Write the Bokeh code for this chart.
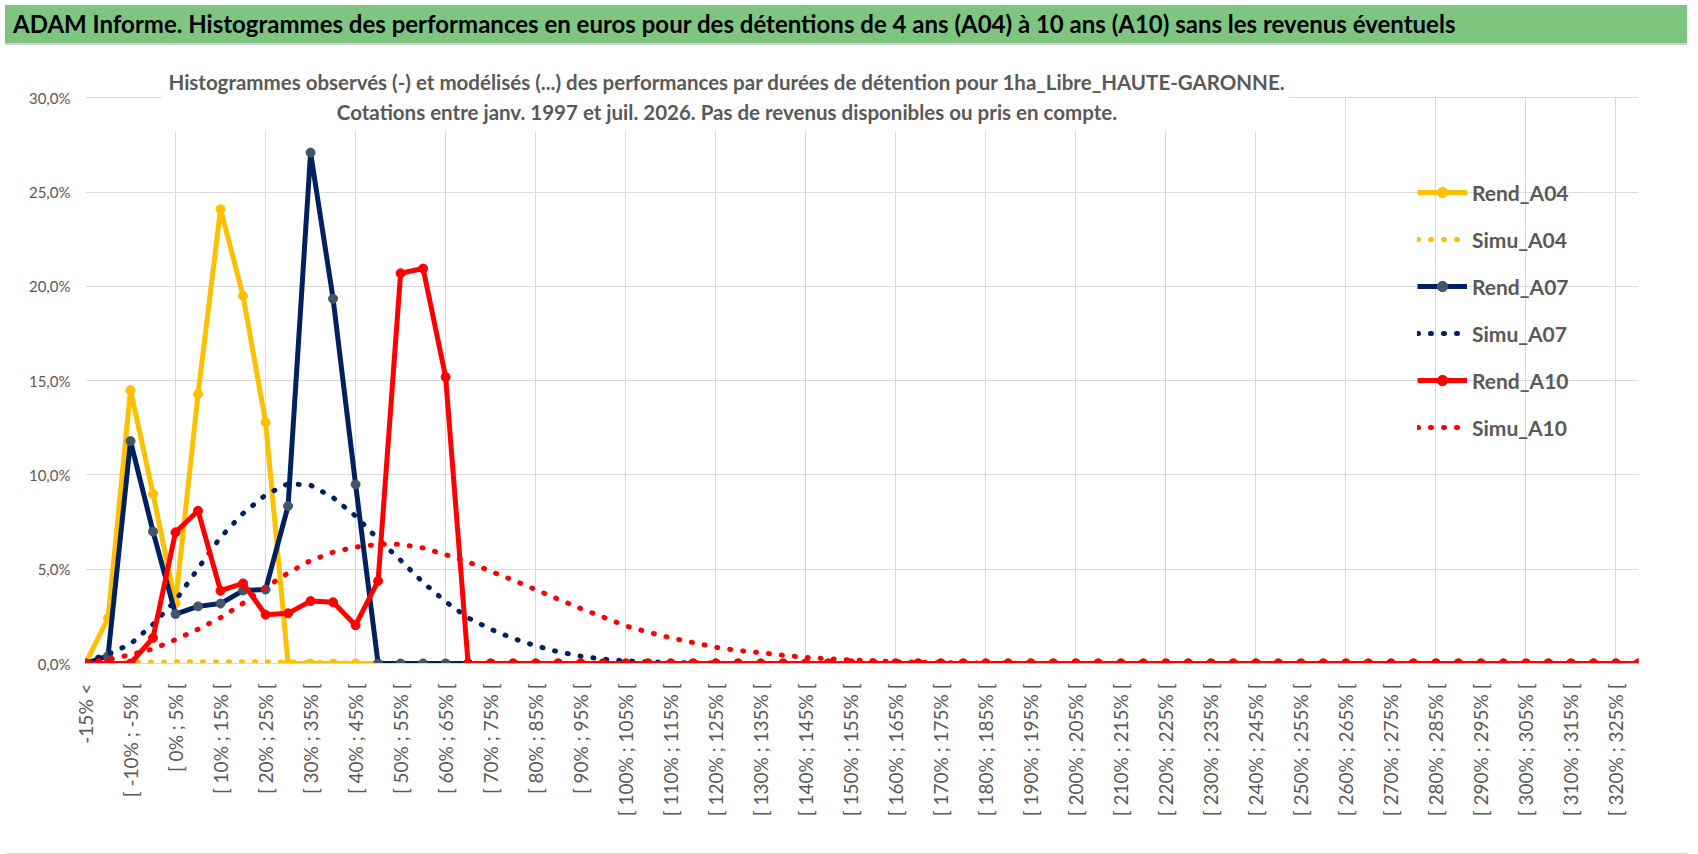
import math
from bokeh.plotting import figure
from bokeh.models import (FixedTicker, Legend, LegendItem, Label, BoxAnnotation,
                          Div, Range1d, ColumnDataSource)
from bokeh.layouts import column
from bokeh.embed import file_html
from bokeh.resources import INLINE

# ---------------- data ----------------
TITLE = ("ADAM Informe. Histogrammes des performances en euros pour des détentions "
         "de 4 ans (A04) à 10 ans (A10) sans les revenus éventuels")
SUBTITLE_1 = ("Histogrammes observés (-) et modélisés (...) des performances par durées "
              "de détention pour 1ha_Libre_HAUTE-GARONNE.")
SUBTITLE_2 = "Cotations entre janv. 1997 et juil. 2026. Pas de revenus disponibles ou pris en compte."

CATEGORIES = ["-15% <"] + [f"[ {5 * k - 20}% ; {5 * k - 15}% [" for k in range(1, 70)]

Y_TICKS = [0, 5, 10, 15, 20, 25, 30]
Y_TICK_LABELS = ["0,0%", "5,0%", "10,0%", "15,0%", "20,0%", "25,0%", "30,0%"]

N = len(CATEGORIES)

REND_A04 = [0.0, 2.4, 14.5, 9.0, 3.2, 14.3, 24.1, 19.5, 12.8] + [0.0] * (N - 9)
SIMU_A04 = [0.0, 0.02, 0.05, 0.08, 0.09, 0.09, 0.09, 0.09, 0.09, 0.08, 0.06, 0.04,
            0.02, 0.01] + [0.0] * (N - 14)
REND_A07 = [0.0, 0.4, 11.8, 7.0, 2.62, 3.03, 3.18, 3.87, 3.92, 8.35, 27.1, 19.35,
            9.5] + [0.0] * (N - 13)
SIMU_A07 = [0.1, 0.5, 1.03, 2.08, 3.34, 5.04, 6.7, 7.96, 8.94, 9.54, 9.46, 8.8,
            7.82, 6.6, 5.48, 4.3, 3.28, 2.42, 1.82, 1.33, 0.94, 0.62, 0.39, 0.23,
            0.14, 0.09, 0.05, 0.03, 0.02, 0.01] + [0.0] * (N - 30)
REND_A10 = [0.0, 0.0, 0.0, 1.36, 6.96, 8.1, 3.86, 4.25, 2.59, 2.66, 3.31, 3.25,
            2.03, 4.38, 20.7, 20.95, 15.2] + [0.0] * (N - 17)
SIMU_A10 = [0.1, 0.2, 0.47, 0.77, 1.27, 1.82, 2.43, 3.2, 4.04, 4.8, 5.46, 5.9,
            6.18, 6.32, 6.32, 6.13, 5.77, 5.39, 4.89, 4.42, 3.92, 3.41, 2.92, 2.46,
            2.0, 1.66, 1.36, 1.11, 0.86, 0.69, 0.57, 0.44, 0.32, 0.25, 0.19, 0.14,
            0.1, 0.07, 0.05, 0.03, 0.02, 0.01, 0.01] + [0.0] * (N - 43)

X = list(range(N))

YELLOW = "#FFC000"
NAVY = "#002060"
NAVY_MARK = "#44546A"
RED = "#FF0000"
GREY_TXT = "#595959"
GRID = "#D9D9D9"
FONT = "Lato"

Y_TOP = 31.88  # room above the 30 % line for the chart title

# ---------------- header band ----------------
band = Div(
    text=(f'<div style="width:1682px;height:40px;box-sizing:border-box;'
          f'background:#7EC680;border-bottom:2px solid #D0D0D0;'
          f'font-family:{FONT};font-weight:bold;font-size:24px;color:#000;'
          f'line-height:38px;padding-left:8px;white-space:nowrap;">{TITLE}</div>'),
    width=1682, height=40,
)

# bottom border of the chart area
bottom = Div(
    text=('<div style="width:1682px;height:6px;box-sizing:border-box;'
          'border-top:2px solid #D9D9D9;"></div>'),
    width=1682, height=6,
)

# ---------------- figure ----------------
p = figure(width=1682, height=792,
           x_range=Range1d(0, N - 1), y_range=Range1d(0, Y_TOP),
           output_backend="svg", toolbar_location=None,
           min_border_left=85, min_border_right=44,
           min_border_top=12, min_border_bottom=179)
p.title.visible = False
p.title.text_font_size = "0px"
p.title.standoff = 0
p.outline_line_color = None
p.background_fill_color = "white"
p.border_fill_color = "white"

# axes
p.xaxis.ticker = FixedTicker(ticks=list(range(0, N, 2)))
p.xaxis.major_label_overrides = {i: CATEGORIES[i] for i in range(0, N, 2)}
p.xaxis.major_label_orientation = math.pi / 2
p.xaxis.major_label_text_font = FONT
p.xaxis.major_label_text_font_size = "19px"
p.xaxis.major_label_text_color = GREY_TXT
p.xaxis.major_label_standoff = 20
p.xaxis.major_tick_out = 0
p.xaxis.major_tick_in = 0
p.xaxis.axis_line_color = GRID
p.xaxis.major_tick_line_color = None
p.xaxis.minor_tick_line_color = None

p.yaxis.ticker = FixedTicker(ticks=Y_TICKS)
p.yaxis.major_label_overrides = dict(zip(Y_TICKS, Y_TICK_LABELS))
p.yaxis.major_label_text_font = FONT
p.yaxis.major_label_text_font_size = "15px"
p.yaxis.major_label_text_color = GREY_TXT
p.yaxis.major_label_standoff = 15
p.yaxis.major_tick_out = 0
p.yaxis.major_tick_in = 0
p.yaxis.axis_line_color = None
p.yaxis.major_tick_line_color = None
p.yaxis.minor_tick_line_color = None

p.xgrid.ticker = FixedTicker(ticks=list(range(0, N, 4)))
p.ygrid.ticker = FixedTicker(ticks=Y_TICKS)
p.xgrid.grid_line_color = GRID
p.ygrid.grid_line_color = GRID

# white areas: above the plot area, and the chart-title box overlapping it
p.add_layout(BoxAnnotation(left=0, right=N - 1, bottom=30.06, top=Y_TOP,
                           fill_color="white", fill_alpha=1.0, line_alpha=0))
p.add_layout(BoxAnnotation(left=3.38, right=53.46, bottom=28.25, top=30.1,
                           fill_color="white", fill_alpha=1.0, line_alpha=0))

src = ColumnDataSource(dict(x=X, ra04=REND_A04, sa04=SIMU_A04, ra07=REND_A07,
                            sa07=SIMU_A07, ra10=REND_A10, sa10=SIMU_A10))

LW = 5
DOTS = "1 12"
MS = 9

r_a04 = p.line("x", "ra04", source=src, line_color=YELLOW, line_width=LW, line_join="round")
m_a04 = p.scatter("x", "ra04", source=src, size=MS, fill_color=YELLOW, line_color=YELLOW)
s_a04 = p.line("x", "sa04", source=src, line_color=YELLOW, line_width=LW,
               line_dash=DOTS, line_cap="round")
r_a07 = p.line("x", "ra07", source=src, line_color=NAVY, line_width=LW, line_join="round")
m_a07 = p.scatter("x", "ra07", source=src, size=MS, fill_color=NAVY_MARK, line_color=NAVY_MARK)
s_a07 = p.line("x", "sa07", source=src, line_color=NAVY, line_width=LW,
               line_dash=DOTS, line_cap="round")
r_a10 = p.line("x", "ra10", source=src, line_color=RED, line_width=LW, line_join="round")
m_a10 = p.scatter("x", "ra10", source=src, size=MS, fill_color=RED, line_color=RED)
s_a10 = p.line("x", "sa10", source=src, line_color=RED, line_width=LW,
               line_dash=DOTS, line_cap="round")

legend = Legend(items=[
    LegendItem(label="Rend_A04", renderers=[r_a04, m_a04]),
    LegendItem(label="Simu_A04", renderers=[s_a04]),
    LegendItem(label="Rend_A07", renderers=[r_a07, m_a07]),
    LegendItem(label="Simu_A07", renderers=[s_a07]),
    LegendItem(label="Rend_A10", renderers=[r_a10, m_a10]),
    LegendItem(label="Simu_A10", renderers=[s_a10]),
], location=(1332, 223))
legend.label_text_font = FONT
legend.label_text_font_style = "bold"
legend.label_text_font_size = "21px"
legend.label_text_color = GREY_TXT
legend.glyph_width = 50
legend.glyph_height = 26
legend.spacing = 21
legend.padding = 0
legend.margin = 0
legend.label_standoff = 5
legend.border_line_color = None
legend.background_fill_alpha = 0
p.add_layout(legend)

# chart title (two lines)
for txt, yy in ((SUBTITLE_1, 30.85), (SUBTITLE_2, 29.26)):
    p.add_layout(Label(x=28.5, y=yy, text=txt, text_align="center",
                       text_baseline="middle", text_font=FONT,
                       text_font_style="bold", text_font_size="20.5px",
                       text_color=GREY_TXT))

layout = column(band, p, bottom)
open("out.html", "w").write(file_html(layout, INLINE))
